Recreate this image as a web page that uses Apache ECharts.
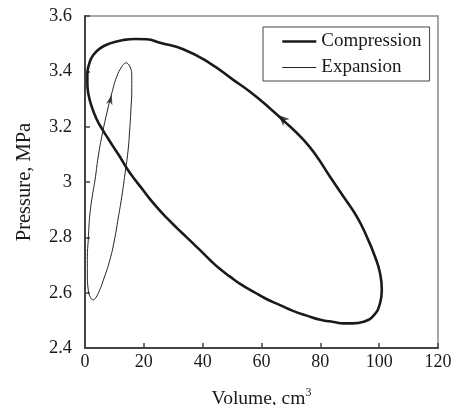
<!DOCTYPE html>
<html>
<head>
<meta charset="utf-8">
<script src="https://cdn.jsdelivr.net/npm/echarts@6/dist/echarts.min.js"></script>
<style>
html,body{margin:0;padding:0;background:#fff;}
#chart{width:455px;height:405px;}
</style>
</head>
<body>
<div id="chart"></div>
<script>
// Tick settings
var xTicks = [0, 20, 40, 60, 80, 100, 120];
var yTicks = [2.4, 2.6, 2.8, 3.0, 3.2, 3.4, 3.6];

// Compression loop: [volume cm3, pressure MPa]
var compression = [
  [0.8,3.357],[0.8,3.39],[1.5,3.43],[2.8,3.459],[5.1,3.483],[8.5,3.501],[13.0,3.513],
  [17.0,3.517],[21.0,3.516],[25.5,3.503],[33.4,3.480],[42.5,3.429],[50.4,3.369],
  [56.1,3.326],[62.9,3.266],[67.5,3.222],[74.3,3.152],[78.8,3.092],[83.3,3.019],
  [87.9,2.947],[92.4,2.875],[95.8,2.802],[98.6,2.730],[100.3,2.670],[100.9,2.610],
  [100.3,2.562],[98.1,2.517],[94.7,2.495],[91.0,2.489],[87.9,2.489],[84.5,2.494],
  [80.0,2.502],[75.4,2.517],[70.5,2.535],[66.3,2.555],[61.5,2.578],[57.2,2.604],
  [53.0,2.630],[49.3,2.658],[45.8,2.686],[42.5,2.718],[38.5,2.760],[34.6,2.800],
  [31.0,2.836],[27.8,2.870],[25.0,2.902],[22.1,2.938],[19.8,2.970],[17.0,3.008],
  [14.2,3.050],[11.8,3.092],[9.6,3.128],[7.8,3.158],[6.2,3.185],[4.0,3.226],
  [2.3,3.272],[1.1,3.321],[0.8,3.357]
];

// Expansion loop: [volume cm3, pressure MPa]
var expansion = [
  [14.2,3.431],[15.3,3.417],[15.9,3.381],[15.9,3.333],[15.6,3.26],[15.2,3.19],
  [14.6,3.11],[13.6,3.03],[12.5,2.947],[11.3,2.87],[10.0,2.79],[8.5,2.72],
  [6.4,2.65],[4.6,2.60],[3.4,2.578],[2.8,2.574],[1.7,2.586],[1.1,2.610],
  [0.8,2.670],[0.8,2.730],[1.1,2.790],[1.4,2.850],[1.7,2.887],[2.5,2.950],
  [3.4,3.007],[4.5,3.092],[5.7,3.164],[7.4,3.248],[9.1,3.321],[10.8,3.381],
  [12.5,3.417],[13.4,3.428],[14.2,3.431]
];

// Direction arrows: [volume, pressure, rotation deg]
var compressionArrow = [[65.7, 3.242, 48]];
var expansionArrow = [[9.1, 3.315, -15]];

var FONT = "'Liberation Serif','Times New Roman',serif";

var chart = echarts.init(document.getElementById('chart'), null, {renderer:'canvas'});
chart.setOption({
  animation: false,
  backgroundColor: '#fff',
  grid: {left: 85, right: 17, top: 16, bottom: 57, show: true, borderColor: '#8a8a8a', borderWidth: 1.5,
         containLabel: false, outerBoundsMode: 'none'},
  legend: {
    orient: 'vertical',
    left: 263, top: 27,
    data: [
      {name: 'Compression', lineStyle: {width: 2.6, color: '#1a1a1a'}},
      {name: 'Expansion', lineStyle: {width: 1, color: '#222'}}
    ],
    padding: [5, 8, 4, 18],
    itemGap: 7,
    itemWidth: 34,
    itemHeight: 14,
    borderColor: '#444', borderWidth: 1,
    backgroundColor: '#fff',
    itemStyle: {opacity: 0},
    textStyle: {fontFamily: FONT, fontSize: 19, color: '#1a1a1a'}
  },
  xAxis: {
    type: 'value', min: xTicks[0], max: xTicks[xTicks.length-1], interval: 20,
    name: 'Volume, cm{sup|3}', nameLocation: 'middle', nameGap: 39,
    nameTextStyle: {fontFamily: FONT, fontSize: 19.5, color: '#1a1a1a',
      rich: {sup: {fontFamily: FONT, fontSize: 12, color: '#1a1a1a', verticalAlign: 'top', padding: [0,0,12,0]}}},
    axisLine: {show: true, lineStyle: {color: '#444', width: 2}},
    axisTick: {show: true, inside: true, length: 5, lineStyle: {color: '#444', width: 1.5}},
    axisLabel: {fontFamily: FONT, fontSize: 18, color: '#1a1a1a', margin: 5},
    splitLine: {show: false}
  },
  yAxis: {
    type: 'value', min: yTicks[0], max: yTicks[yTicks.length-1], interval: 0.2,
    name: 'Pressure, MPa', nameLocation: 'middle', nameGap: 50, nameRotate: 90,
    nameTextStyle: {fontFamily: FONT, fontSize: 20.5, color: '#1a1a1a'},
    axisLine: {show: true, lineStyle: {color: '#444', width: 2}},
    axisTick: {show: true, inside: true, length: 5, lineStyle: {color: '#444', width: 1.5}},
    axisLabel: {fontFamily: FONT, fontSize: 18.5, color: '#1a1a1a', margin: 13,
      formatter: function(v){ return String(Math.round(v*10)/10); }},
    splitLine: {show: false}
  },
  series: [
    {name: 'Compression', type: 'line', data: compression, symbol: 'none', smooth: 0.5,
     lineStyle: {color: '#1a1a1a', width: 2.6}, itemStyle: {color: '#1a1a1a'}},
    {name: 'Expansion', type: 'line', data: expansion, symbol: 'none', smooth: 0.5,
     lineStyle: {color: '#222', width: 1}, itemStyle: {color: '#222'}},
    {name: 'arrowC', type: 'scatter', data: compressionArrow, symbol: 'arrow', symbolSize: [7, 11],
     symbolRotate: function(v){ return v[2]; }, itemStyle: {color: '#1a1a1a'}, z: 5},
    {name: 'arrowE', type: 'scatter', data: expansionArrow, symbol: 'arrow', symbolSize: [5, 10],
     symbolRotate: function(v){ return v[2]; }, itemStyle: {color: '#222'}, z: 5}
  ]
});
</script>
</body>
</html>
